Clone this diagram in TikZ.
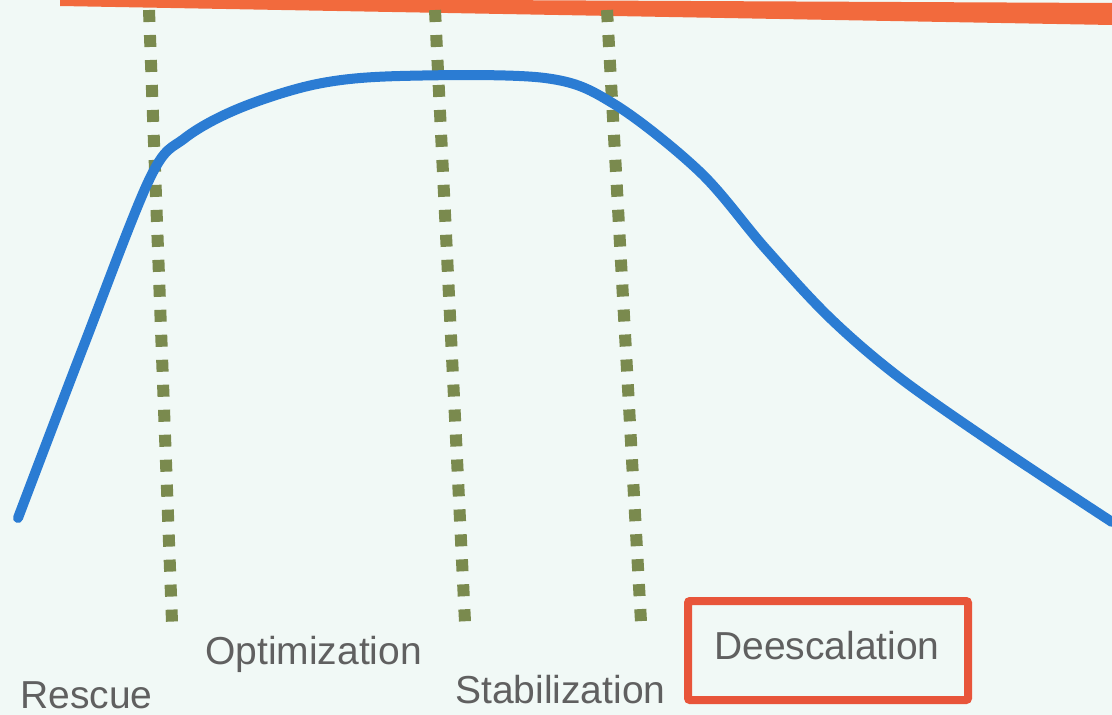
\documentclass[tikz,border=0pt]{standalone}
\usepackage{fontspec}
\setmainfont{Liberation Sans}
\definecolor{bgcol}{HTML}{F1F9F6}
\definecolor{barcol}{HTML}{F26A3D}
\definecolor{boxcol}{HTML}{E8553A}
\definecolor{curvecol}{HTML}{2B7CD3}
\definecolor{dotcol}{HTML}{7A8A4E}
\definecolor{txtcol}{HTML}{606060}
\tikzset{
  phase/.style={anchor=base west, inner sep=0pt, text=txtcol,
    font=\fontsize{39}{46}\selectfont},
  border/.style={dotcol, line width=12pt, dash pattern=on 12pt off 13pt},
}
\begin{document}
\begin{tikzpicture}[x=1pt, y=-1pt]
                        \useasboundingbox (0,0) rectangle (1112,715);
                        \fill [bgcol] (0,0) rectangle (1112,715);%

                        % Drawing top bar
                        \fill [barcol] (60,-2) -- (1112,3) -- (1112,25) -- (60,6) -- cycle;%

                        % Drawing phase borders
                        \foreach \name/\xa/\xb in {b1/149/172, b2/435/465, b3/607/641} {
                          \coordinate (\name top) at (\xa,10);
                          \coordinate (\name bot) at (\xb,622);
                          \draw [border] (\name top) -- (\name bot);%
                        }

                        % Drawing curve
                        \draw [curvecol, line width=10pt, line cap=round, line join=round]
                          plot [smooth, tension=0.55] coordinates {
                          (18,518) (84,345) (150,178) (185,138)
                          (240,108) (317,84) (400,76) (545,78)
                          (614,104) (700,172) (765,248) (830,318)
                          (900,378) (1000,448) (1112,522)};%

                        % Marking phases
                        \node [phase] (rescue) at (20,708) {Rescue};%
                        \node [phase] (optim) at (205,664) {Optimization};%
                        \node [phase] (stab) at (455,703) {Stabilization};%
                        \node [phase] (deesc) at (714,659) {Deescalation};%

                        % Marking box round deescalation
                        \draw [boxcol, line width=8pt, rounded corners=2pt] (688,601) rectangle (968,700);%
                    \end{tikzpicture}
\end{document}
